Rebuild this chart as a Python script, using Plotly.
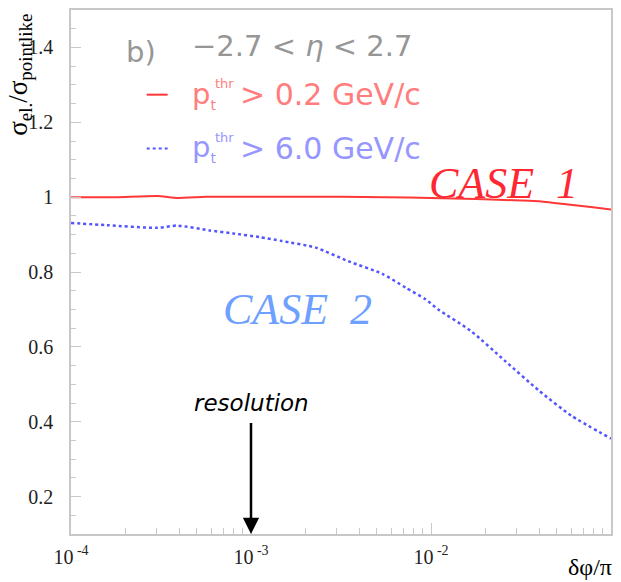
import numpy as np
import plotly.graph_objects as go

# log10(delta phi / pi) sample points and cross-section ratios
red_logx = [-4.0, -3.75, -3.52, -3.41, -3.25, -3.0, -2.75, -2.5, -2.25, -2.0, -1.75, -1.5, -1.4, -1.25, -1.1, -1.0]
red_y = [1.000, 1.000, 1.003, 0.998, 1.001, 1.001, 1.001, 1.001, 1.000, 0.998, 0.995, 0.991, 0.989, 0.981, 0.973, 0.967]

blue_logx = [-4.0, -3.80, -3.52, -3.41, -3.23, -3.10, -2.95, -2.83, -2.64, -2.46, -2.27, -2.14, -2.03,
             -1.96, -1.78, -1.59, -1.40, -1.22, -1.0]
blue_y = [0.931, 0.925, 0.918, 0.924, 0.911, 0.903, 0.893, 0.883, 0.865, 0.829, 0.795, 0.758, 0.727,
          0.700, 0.643, 0.563, 0.483, 0.416, 0.355]

x_tickvals = [1e-4, 1e-3, 1e-2, 1e-1]
x_ticktext = ["10<sup> -4</sup>", "10<sup> -3</sup>", "10<sup> -2</sup>", "10<sup> -1</sup>"]
y_tickvals = [0.2, 0.4, 0.6, 0.8, 1.0, 1.2, 1.4]
y_ticktext = ["0.2", "0.4", "0.6", "0.8", "1", "1.2", "1.4"]

resolution_x = 1e-3

RED = "rgb(255,55,55)"
BLUE = "rgb(85,85,255)"
SERIF = "Liberation Serif"
SANS = "DejaVu Sans"

# minor ticks at 2..9 within each decade
x_minor = [m * 10.0 ** e for e in range(-4, -1) for m in range(2, 10)]

fig = go.Figure()
fig.add_trace(go.Scatter(x=10 ** np.array(red_logx), y=red_y, mode="lines",
                         line=dict(color=RED, width=2, shape="spline", smoothing=0.4),
                         showlegend=False, hoverinfo="skip"))
fig.add_trace(go.Scatter(x=10 ** np.array(blue_logx), y=blue_y, mode="lines",
                         line=dict(color=BLUE, width=2.5, dash="3px,3px", shape="spline", smoothing=0.6),
                         showlegend=False, hoverinfo="skip"))

axis_col = "rgb(200,200,200)"
fig.update_xaxes(type="log", range=[-4, -1], tickvals=x_tickvals, ticktext=x_ticktext,
                 ticks="inside", ticklen=11, tickwidth=1.2, tickcolor=axis_col,
                 minor=dict(ticks="inside", ticklen=6, tickvals=x_minor, tickcolor=axis_col,
                            tickwidth=1, showgrid=False),
                 showline=True, linecolor=axis_col, linewidth=1.5, mirror=True,
                 showgrid=False, zeroline=False,
                 tickfont=dict(family=SERIF, size=20, color="#222"), ticklabelstandoff=4)
fig.update_yaxes(range=[0.1, 1.5], tickvals=y_tickvals, ticktext=y_ticktext,
                 ticks="inside", ticklen=10, tickwidth=1.2, tickcolor=axis_col,
                 minor=dict(ticks="inside", ticklen=5, dtick=0.05, tick0=0, tickcolor=axis_col,
                            tickwidth=1, showgrid=False),
                 showline=True, linecolor=axis_col, linewidth=1.5, mirror=True,
                 showgrid=False, zeroline=False,
                 tickfont=dict(family=SERIF, size=20, color="#222"), ticklabelstandoff=12)

ann = []
# axis titles
ann.append(dict(text="σ<sub>el.</sub>/σ<sub>pointlike</sub>", textangle=-90, xref="paper", yref="paper",
                x=-0.096, y=0.997, xanchor="center", yanchor="top", showarrow=False,
                font=dict(family=SERIF, size=27, color="black")))
ann.append(dict(text="δφ/π", xref="paper", yref="paper", x=1.005, y=-0.0925, xanchor="right",
                yanchor="bottom", showarrow=False, font=dict(family=SERIF, size=24, color="black")))

# key block
GRAY = "rgb(150,150,150)"
LRED = "rgb(255,125,125)"
LBLUE = "rgb(150,150,255)"
ann.append(dict(text="b)", xref="paper", yref="paper", x=(141 - 71) / 542, y=1 - (50 - 8) / 526,
                xanchor="center", yanchor="middle", showarrow=False,
                font=dict(family=SANS, size=29, color=GRAY)))
ann.append(dict(text="−2.7 &lt; <i>η</i> &lt; 2.7", xref="paper", yref="paper",
                x=(190 - 71) / 542, y=1 - (44 - 8) / 526,
                xanchor="left", yanchor="middle", showarrow=False,
                font=dict(family=SANS, size=29, color=GRAY)))
for row_y, col, label in [(93, LRED, "&gt; 0.2 GeV/c"), (147, LBLUE, "&gt; 6.0 GeV/c")]:
    ypos = 1 - (row_y - 8) / 526
    ann.append(dict(text="p<sub><span style='font-size:14px'>t</span></sub>", xref="paper", yref="paper",
                    x=(190 - 71) / 542, y=ypos, xanchor="left", yanchor="middle", showarrow=False,
                    font=dict(family=SANS, size=29, color=col)))
    ann.append(dict(text="thr", xref="paper", yref="paper", x=(214 - 71) / 542, y=1 - (row_y - 11 - 8) / 526,
                    xanchor="left", yanchor="middle", showarrow=False,
                    font=dict(family=SANS, size=13, color=col)))
    ann.append(dict(text=label, xref="paper", yref="paper", x=(239 - 71) / 542, y=ypos,
                    xanchor="left", yanchor="middle", showarrow=False,
                    font=dict(family=SANS, size=30, color=col)))

# case labels
ann.append(dict(text="<i>CASE\u00a0\u00a01</i>", xref="paper", yref="paper", x=(505 - 71) / 542,
                y=1 - (182 - 8) / 526, xanchor="center", yanchor="middle", showarrow=False,
                font=dict(family=SERIF, size=44, color="rgb(255,40,50)")))
ann.append(dict(text="<i>CASE\u00a0\u00a02</i>", xref="paper", yref="paper", x=(298 - 71) / 542,
                y=1 - (309 - 8) / 526, xanchor="center", yanchor="middle", showarrow=False,
                font=dict(family=SERIF, size=44, color="rgb(110,160,255)")))

# resolution marker
ann.append(dict(text="<i>resolution</i>", x=np.log10(resolution_x), y=0.1 + (534 - 403) / 375.6,
                xref="x", yref="y", xanchor="center", yanchor="middle", showarrow=False,
                font=dict(family=SANS, size=23, color="black")))
ann.append(dict(text="", x=np.log10(resolution_x), y=0.1, xref="x", yref="y",
                ax=np.log10(resolution_x), ay=0.1 + (534 - 421) / 375.6, axref="x", ayref="y",
                showarrow=True, arrowhead=2, arrowsize=1.3, arrowwidth=2.5, arrowcolor="black"))

fig.update_layout(width=621, height=582, margin=dict(l=71, r=8, t=8, b=48),
                  paper_bgcolor="white", plot_bgcolor="white", annotations=ann)

# key samples
fig.add_shape(type="line", xref="paper", yref="paper", x0=(147 - 71) / 542, x1=(168 - 71) / 542,
              y0=1 - (93 - 8) / 526, y1=1 - (93 - 8) / 526, line=dict(color=RED, width=2))
fig.add_shape(type="line", xref="paper", yref="paper", x0=(147 - 71) / 542, x1=(168 - 71) / 542,
              y0=1 - (147 - 8) / 526, y1=1 - (147 - 8) / 526, line=dict(color=BLUE, width=2, dash="3px,3px"))

fig.write_html("out.html")
